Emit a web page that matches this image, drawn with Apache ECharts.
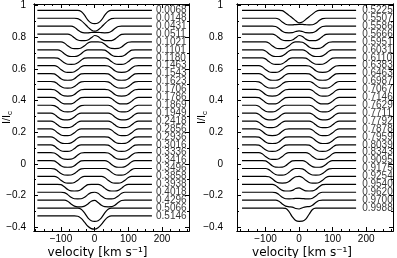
<!doctype html>
<html>
<head>
<meta charset="UTF-8">
<title>line profiles</title>
<script src="https://cdn.jsdelivr.net/npm/echarts@6/dist/echarts.min.js"></script>
<style>
    html, body { margin: 0; padding: 0; background: #fff; }
    #main { width: 397px; height: 258px; }
</style>
</head>
<body>
<div id="main"></div>
<script>
// velocity grid of every profile, km/s
var velocity = [-170,-160,-150,-140,-130,-120,-110,-100,-90,-80,-70,-60,-50,-40,-30,-20,-10,0,10,20,30,40,50,60,70,80,90,100,110,120,130,140,150,160,170];

var leftPhases = ['0.0068','0.0148','0.0431','0.0511','0.1021','0.1101','0.1180','0.1463','0.1543','0.1623','0.1706','0.1786','0.1869','0.1949','0.2418','0.2856','0.2936','0.3016','0.3336','0.3416','0.3496','0.3858','0.3938','0.4018','0.4296','0.5066','0.5146'];
var rightPhases = ['0.5225','0.5507','0.5586','0.5666','0.5951','0.6031','0.6110','0.6383','0.6463','0.6987','0.7067','0.7146','0.7629','0.7711','0.7792','0.7878','0.7959','0.8039','0.8343','0.9095','0.9175','0.9254','0.9540','0.9620','0.9700','0.9988'];

// continuum level of each shifted profile
var leftOffsets = [0.97,0.92,0.87,0.82,0.77,0.72,0.67,0.62,0.57,0.52,0.47,0.42,0.37,0.32,0.27,0.22,0.17,0.12,0.07,0.02,-0.03,-0.08,-0.13,-0.18,-0.23,-0.28,-0.33];
var rightOffsets = [0.97,0.92,0.87,0.82,0.77,0.72,0.67,0.62,0.57,0.52,0.47,0.42,0.37,0.32,0.27,0.22,0.17,0.12,0.07,0.02,-0.03,-0.08,-0.13,-0.18,-0.23,-0.28];

// line depression below the continuum, in units of 0.001 I/Ic
var leftDepths = [
    [0,0,0,0,0,0,0,0,0,0,0,0,0,7,31,62,80,84,80,62,31,7,0,0,0,0,0,0,0,0,0,0,0,0,0],
    [0,0,0,0,0,0,0,0,0,0,0,0,2,15,34,56,74,82,74,56,34,15,2,0,0,0,0,0,0,0,0,0,0,0,0],
    [0,0,0,0,0,0,0,0,0,0,0,7,24,38,42,42,40,39,39,41,42,41,32,15,2,0,0,0,0,0,0,0,0,0,0],
    [0,0,0,0,0,0,0,0,0,0,7,24,38,42,42,38,24,9,15,32,41,42,41,32,15,2,0,0,0,0,0,0,0,0,0],
    [0,0,0,0,0,0,0,0,7,24,38,42,42,38,24,7,0,0,0,2,15,32,41,42,41,32,15,2,0,0,0,0,0,0,0],
    [0,0,0,0,0,0,0,7,24,38,42,42,38,24,7,0,0,0,0,0,2,15,32,41,42,41,32,15,2,0,0,0,0,0,0],
    [0,0,0,0,0,0,2,15,32,41,42,41,32,15,2,0,0,0,0,0,0,7,24,38,42,42,38,24,7,0,0,0,0,0,0],
    [0,0,0,0,0,0,7,24,38,42,42,38,24,7,0,0,0,0,0,0,0,2,15,32,41,42,41,32,15,2,0,0,0,0,0],
    [0,0,0,0,0,2,15,32,41,42,41,32,15,2,0,0,0,0,0,0,0,2,15,32,41,42,41,32,15,2,0,0,0,0,0],
    [0,0,0,0,0,2,15,32,41,42,41,32,15,2,0,0,0,0,0,0,0,2,15,32,41,42,41,32,15,2,0,0,0,0,0],
    [0,0,0,0,0,2,15,32,41,42,41,32,15,2,0,0,0,0,0,0,0,2,15,32,41,42,41,32,15,2,0,0,0,0,0],
    [0,0,0,0,0,2,15,32,41,42,41,32,15,2,0,0,0,0,0,0,0,0,7,24,38,42,42,38,24,7,0,0,0,0,0],
    [0,0,0,0,0,2,15,32,41,42,41,32,15,2,0,0,0,0,0,0,0,0,7,24,38,42,42,38,24,7,0,0,0,0,0],
    [0,0,0,0,0,7,24,38,42,42,38,24,7,0,0,0,0,0,0,0,0,0,7,24,38,42,42,38,24,7,0,0,0,0,0],
    [0,0,0,0,0,7,24,38,42,42,38,24,7,0,0,0,0,0,0,0,0,0,7,24,38,42,42,38,24,7,0,0,0,0,0],
    [0,0,0,0,0,7,24,38,42,42,38,24,7,0,0,0,0,0,0,0,0,0,7,24,38,42,42,38,24,7,0,0,0,0,0],
    [0,0,0,0,0,7,24,38,42,42,38,24,7,0,0,0,0,0,0,0,0,2,15,32,41,42,41,32,15,2,0,0,0,0,0],
    [0,0,0,0,0,7,24,38,42,42,38,24,7,0,0,0,0,0,0,0,0,2,15,32,41,42,41,32,15,2,0,0,0,0,0],
    [0,0,0,0,0,2,15,32,41,42,41,32,15,2,0,0,0,0,0,0,0,2,15,32,41,42,41,32,15,2,0,0,0,0,0],
    [0,0,0,0,0,2,15,32,41,42,41,32,15,2,0,0,0,0,0,0,0,7,24,38,42,42,38,24,7,0,0,0,0,0,0],
    [0,0,0,0,0,2,15,32,41,42,41,32,15,2,0,0,0,0,0,0,0,7,24,38,42,42,38,24,7,0,0,0,0,0,0],
    [0,0,0,0,0,0,7,24,38,42,42,38,24,7,0,0,0,0,0,0,7,24,38,42,42,38,24,7,0,0,0,0,0,0,0],
    [0,0,0,0,0,0,0,2,15,32,41,42,41,32,15,2,0,0,0,7,24,38,42,42,38,24,7,0,0,0,0,0,0,0,0],
    [0,0,0,0,0,0,0,0,2,15,32,41,42,41,32,15,2,0,7,24,38,42,42,38,24,7,0,0,0,0,0,0,0,0,0],
    [0,0,0,0,0,0,0,0,0,7,24,38,42,42,38,24,7,2,15,32,41,42,41,32,15,2,0,0,0,0,0,0,0,0,0],
    [0,0,0,0,0,0,0,0,0,0,0,0,0,7,31,62,80,84,80,62,31,7,0,0,0,0,0,0,0,0,0,0,0,0,0],
    [0,0,0,0,0,0,0,0,0,0,0,0,2,15,39,65,80,83,74,53,26,7,0,0,0,0,0,0,0,0,0,0,0,0,0]
];

var rightDepths = [
    [0,0,0,0,0,0,0,0,0,0,0,0,2,15,32,48,66,79,74,57,40,24,7,0,0,0,0,0,0,0,0,0,0,0,0],
    [0,0,0,0,0,0,0,0,0,0,0,7,24,38,42,42,40,39,39,41,42,41,32,15,2,0,0,0,0,0,0,0,0,0,0],
    [0,0,0,0,0,0,0,0,0,0,2,15,32,41,42,41,34,30,34,41,42,41,32,15,2,0,0,0,0,0,0,0,0,0,0],
    [0,0,0,0,0,0,0,0,0,0,7,24,38,42,42,38,24,9,15,32,41,42,41,32,15,2,0,0,0,0,0,0,0,0,0],
    [0,0,0,0,0,0,0,0,7,24,38,42,42,38,24,7,0,0,2,15,32,41,42,41,32,15,2,0,0,0,0,0,0,0,0],
    [0,0,0,0,0,0,0,7,24,38,42,42,38,24,7,0,0,0,0,7,24,38,42,42,38,24,7,0,0,0,0,0,0,0,0],
    [0,0,0,0,0,0,0,7,24,38,42,42,38,24,7,0,0,0,0,2,15,32,41,42,41,32,15,2,0,0,0,0,0,0,0],
    [0,0,0,0,0,0,7,24,38,42,42,38,24,7,0,0,0,0,0,0,2,15,32,41,42,41,32,15,2,0,0,0,0,0,0],
    [0,0,0,0,0,0,7,24,38,42,42,38,24,7,0,0,0,0,0,0,2,15,32,41,42,41,32,15,2,0,0,0,0,0,0],
    [0,0,0,0,0,2,15,32,41,42,41,32,15,2,0,0,0,0,0,0,0,7,24,38,42,42,38,24,7,0,0,0,0,0,0],
    [0,0,0,0,0,2,15,32,41,42,41,32,15,2,0,0,0,0,0,0,0,7,24,38,42,42,38,24,7,0,0,0,0,0,0],
    [0,0,0,0,0,2,15,32,41,42,41,32,15,2,0,0,0,0,0,0,0,7,24,38,42,42,38,24,7,0,0,0,0,0,0],
    [0,0,0,0,0,7,24,38,42,42,38,24,7,0,0,0,0,0,0,0,0,7,24,38,42,42,38,24,7,0,0,0,0,0,0],
    [0,0,0,0,0,7,24,38,42,42,38,24,7,0,0,0,0,0,0,0,0,7,24,38,42,42,38,24,7,0,0,0,0,0,0],
    [0,0,0,0,0,7,24,38,42,42,38,24,7,0,0,0,0,0,0,0,0,7,24,38,42,42,38,24,7,0,0,0,0,0,0],
    [0,0,0,0,0,2,15,32,41,42,41,32,15,2,0,0,0,0,0,0,0,7,24,38,42,42,38,24,7,0,0,0,0,0,0],
    [0,0,0,0,0,2,15,32,41,42,41,32,15,2,0,0,0,0,0,0,0,7,24,38,42,42,38,24,7,0,0,0,0,0,0],
    [0,0,0,0,0,2,15,32,41,42,41,32,15,2,0,0,0,0,0,0,2,15,32,41,42,41,32,15,2,0,0,0,0,0,0],
    [0,0,0,0,0,0,7,24,38,42,42,38,24,7,0,0,0,0,0,0,7,24,38,42,42,38,24,7,0,0,0,0,0,0,0],
    [0,0,0,0,0,0,0,2,15,32,41,42,41,32,15,2,0,0,0,7,24,38,42,42,38,24,7,0,0,0,0,0,0,0,0],
    [0,0,0,0,0,0,0,0,7,24,38,42,42,38,24,7,0,0,2,15,32,41,42,41,32,15,2,0,0,0,0,0,0,0,0],
    [0,0,0,0,0,0,0,0,2,15,32,41,42,41,32,15,2,0,7,24,38,42,42,38,24,7,0,0,0,0,0,0,0,0,0],
    [0,0,0,0,0,0,0,0,0,0,7,24,38,42,42,38,26,22,32,41,42,41,32,15,2,0,0,0,0,0,0,0,0,0,0],
    [0,0,0,0,0,0,0,0,0,0,2,15,32,41,42,41,39,39,40,42,42,38,24,7,0,0,0,0,0,0,0,0,0,0,0],
    [0,0,0,0,0,0,0,0,0,0,0,7,24,38,42,44,53,56,48,42,41,32,15,2,0,0,0,0,0,0,0,0,0,0,0],
    [0,0,0,0,0,0,0,0,0,0,0,0,0,2,22,56,79,84,83,70,39,9,0,0,0,0,0,0,0,0,0,0,0,0,0]
];

// tick values
var yMajor = [-0.4, -0.2, 0, 0.2, 0.4, 0.6, 0.8, 1];
var yMinor = [-0.3, -0.1, 0.1, 0.3, 0.5, 0.7, 0.9];
var xMajor = [-100, 0, 100, 200];
var xMinor = [-175, -150, -125, -75, -50, -25, 25, 50, 75, 125, 150, 175, 225, 250, 275];

var font = 'Liberation Sans';

function signed(v) {
    return (v < 0 ? '\u2212' : '') + Math.abs(v);
}

function xAxes(grid, min, max, namePad) {
    var defs = [['bottom', xMajor, 4, true], ['bottom', xMinor, 2, false],
                ['top', xMajor, 4, false], ['top', xMinor, 2, false]];
    return defs.map(function (d) {
        return {
            type: 'value', gridIndex: grid, min: min, max: max, position: d[0],
            axisLine: {show: true, onZero: false, lineStyle: {color: '#000', width: 1}},
            axisTick: {show: true, inside: true, length: d[2], customValues: d[1],
                       lineStyle: {color: '#000', width: 1}},
            axisLabel: {show: d[3], customValues: d[1], formatter: signed, margin: 3,
                        color: '#000', fontSize: 10, fontFamily: font},
            splitLine: {show: false},
            name: d[3] ? 'velocity [km s\u207b\u00b9]' : '',
            nameLocation: 'middle', nameGap: 16, nameMoveOverlap: false,
            nameTextStyle: {color: '#000', fontSize: 12, fontFamily: 'DejaVu Sans',
                            padding: [0, namePad, 0, 0]}
        };
    });
}

function yAxes(grid, labelMargin, nameGap) {
    var defs = [['left', yMajor, 4, true], ['left', yMinor, 2, false],
                ['right', yMajor, 4, false], ['right', yMinor, 2, false]];
    return defs.map(function (d) {
        return {
            type: 'value', gridIndex: grid, min: -0.425, max: 1.01, position: d[0],
            axisLine: {show: true, onZero: false, lineStyle: {color: '#000', width: 1}},
            axisTick: {show: true, inside: true, length: d[2], customValues: d[1],
                       lineStyle: {color: '#000', width: 1}},
            axisLabel: {show: d[3], customValues: d[1], formatter: signed, margin: labelMargin,
                        color: '#000', fontSize: 10, fontFamily: font},
            splitLine: {show: false},
            name: d[3] ? 'I/I{s|c}' : '',
            nameLocation: 'middle', nameGap: nameGap, nameMoveOverlap: false,
            nameTextStyle: {color: '#000', fontSize: 11, fontFamily: font, lineHeight: 14,
                            rich: {s: {fontSize: 8, lineHeight: 8, verticalAlign: 'bottom',
                                       color: '#000', fontFamily: font}}}
        };
    });
}

var series = [];

function addPanel(axisIdx, offsets, depths, phases, labelX) {
    depths.forEach(function (dep, i) {
        series.push({
            type: 'line', xAxisIndex: axisIdx, yAxisIndex: axisIdx,
            showSymbol: false, smooth: 0.35, silent: true,
            lineStyle: {color: '#000', width: 1.2},
            data: velocity.map(function (v, k) {
                return [v, offsets[i] - dep[k] / 1000];
            })
        });
    });
    series.push({
        type: 'scatter', xAxisIndex: axisIdx, yAxisIndex: axisIdx,
        symbolSize: 0, silent: true,
        data: offsets.map(function (o) { return [labelX, o]; }),
        label: {
            show: true, position: 'right', distance: 0,
            formatter: function (p) { return phases[p.dataIndex]; },
            color: '#000', fontSize: 10, fontFamily: font
        }
    });
}

addPanel(0, leftOffsets, leftDepths, leftPhases, 182);
addPanel(4, rightOffsets, rightDepths, rightPhases, 188);

var chart = echarts.init(document.getElementById('main'));
chart.setOption({
    animation: false,
    backgroundColor: '#fff',
    grid: [
        {left: 34, top: 4, width: 155, height: 227, outerBoundsMode: 'none'},
        {left: 237, top: 4, width: 156, height: 227, outerBoundsMode: 'none'}
    ],
    xAxis: xAxes(0, -180, 280, 28).concat(xAxes(1, -185, 280, 26)),
    yAxis: yAxes(0, 8, 20).concat(yAxes(1, 14, 28)),
    series: series
});
</script>
</body>
</html>
